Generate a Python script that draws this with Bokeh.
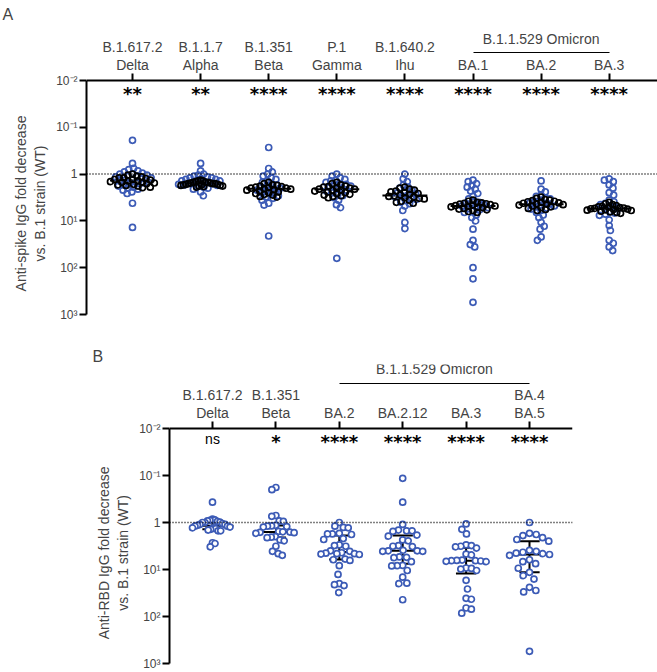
import math
import numpy as np
from bokeh.plotting import figure
from bokeh.models import (Range1d, LinearAxis, FixedTicker, Span,
                          CustomJSTickFormatter, ColumnDataSource)
from bokeh.layouts import column
from bokeh.embed import file_html
from bokeh.resources import INLINE

# ---------------- data: panel A (anti-spike IgG fold decrease) ----------------
a_line1 = ["B.1.617.2", "B.1.1.7", "B.1.351", "P.1", "B.1.640.2", "", "", ""]
a_line2 = ["Delta", "Alpha", "Beta", "Gamma", "Ihu", "BA.1", "BA.2", "BA.3"]
a_group = "B.1.1.529 Omicron"
a_group_span = (5, 7)
a_stars = ["**", "**", "****", "****", "****", "****", "****", "****"]

a_delta_blue = [0.19, 0.59, 0.75, 0.8, 0.85, 0.9, 0.95, 1.0, 1.0, 1.05, 1.1, 1.1, 1.15, 1.2, 1.25,
                1.3, 1.35, 1.4, 1.5, 1.55, 1.6, 1.7, 1.8, 1.9, 2.0, 2.1, 2.2, 2.4, 2.6, 4.2, 13.8]
a_delta_black = [1.0, 1.05, 1.1, 1.15, 1.2, 1.2, 1.25, 1.3, 1.3, 1.35, 1.4, 1.4, 1.45, 1.5, 1.5,
                 1.55, 1.6, 1.65, 1.7, 1.75, 1.8, 1.9, 1.95]
a_alpha_blue = [0.59, 0.85, 1.0, 1.05, 1.1, 1.15, 1.2, 1.2, 1.25, 1.3, 1.3, 1.35, 1.4, 1.4, 1.45,
                1.5, 1.5, 1.55, 1.6, 1.6, 1.65, 1.7, 1.75, 1.8, 1.9, 2.0, 2.1, 2.4, 2.9]
a_alpha_black = [1.35, 1.4, 1.4, 1.45, 1.5, 1.5, 1.5, 1.55, 1.55, 1.6, 1.6, 1.6, 1.65, 1.65, 1.7,
                 1.7, 1.75, 1.75, 1.8, 1.8, 1.85, 1.9]
a_beta_blue = [0.27, 0.76, 0.9, 1.0, 1.1, 1.2, 1.3, 1.4, 1.5, 1.6, 1.7, 1.8, 1.9, 2.0, 2.1, 2.2,
               2.3, 2.4, 2.5, 2.7, 2.9, 3.1, 3.3, 3.6, 4.2, 4.6, 21]
a_beta_black = [1.5, 1.6, 1.7, 1.75, 1.8, 1.85, 1.9, 1.95, 2.0, 2.0, 2.05, 2.1, 2.15, 2.2, 2.3,
                2.4, 2.5, 2.6, 2.7, 2.8, 3.0, 3.1]
a_gamma_blue = [1.0, 1.1, 1.2, 1.3, 1.35, 1.4, 1.5, 1.6, 1.65, 1.7, 1.8, 1.9, 2.0, 2.1, 2.2, 2.3,
                2.5, 2.7, 2.9, 3.2, 3.6, 4.5, 5.2, 63]
a_gamma_black = [1.5, 1.6, 1.7, 1.8, 1.85, 1.9, 2.0, 2.0, 2.1, 2.1, 2.2, 2.2, 2.3, 2.4, 2.5, 2.6,
                 2.7, 2.8, 2.9, 3.0, 3.2]
a_ihu_blue = [1.0, 1.26, 1.45, 1.7, 1.9, 2.0, 2.2, 2.3, 2.5, 2.6, 2.8, 3.0, 3.1, 3.3, 3.5, 3.7,
              4.0, 4.3, 4.8, 6.0, 10.8, 14.6]
a_ihu_black = [1.9, 2.0, 2.1, 2.2, 2.3, 2.4, 2.5, 2.6, 2.7, 2.8, 2.9, 3.0, 3.1, 3.2, 3.3, 3.4,
               3.6, 3.8, 4.0, 4.2]
a_ba1_blue = [1.35, 1.45, 1.6, 1.75, 1.9, 2.1, 2.3, 2.6, 3.0, 3.4, 3.8, 4.0, 4.2, 4.4, 4.6, 4.8,
              5.0, 5.2, 5.5, 5.8, 6.2, 6.6, 7.5, 8.5, 10, 15, 26, 32, 36, 100, 173, 550]
a_ba1_black = [3.6, 3.8, 4.0, 4.1, 4.2, 4.3, 4.4, 4.5, 4.6, 4.7, 4.8, 4.9, 5.0, 5.1, 5.2, 5.4,
               5.6, 5.8, 6.0, 6.3, 6.6]
a_ba2_blue = [1.4, 2.1, 2.4, 2.8, 3.0, 3.2, 3.4, 3.6, 3.8, 4.0, 4.2, 4.4, 4.6, 4.8, 5.0, 5.3,
              5.6, 6.0, 6.6, 7.5, 8.5, 10.7, 13, 15, 22, 26]
a_ba2_black = [3.1, 3.3, 3.5, 3.6, 3.7, 3.8, 3.9, 4.0, 4.1, 4.2, 4.3, 4.4, 4.5, 4.6, 4.8, 5.0,
               5.2, 5.4, 5.7, 6.0]
a_ba3_blue = [1.26, 1.35, 1.45, 1.7, 2.0, 2.5, 2.8, 3.6, 3.9, 4.2, 4.5, 4.8, 5.0, 5.3, 5.6, 6.0,
              6.4, 6.8, 7.2, 7.6, 9.5, 12.6, 16, 26, 30, 36, 43]
a_ba3_black = [4.0, 4.3, 4.5, 4.7, 4.9, 5.0, 5.1, 5.2, 5.3, 5.4, 5.5, 5.6, 5.7, 5.8, 5.9, 6.0,
               6.2, 6.4, 6.6, 6.9]

a_blue = [a_delta_blue, a_alpha_blue, a_beta_blue, a_gamma_blue, a_ihu_blue,
          a_ba1_blue, a_ba2_blue, a_ba3_blue]
a_black = [a_delta_black, a_alpha_black, a_beta_black, a_gamma_black, a_ihu_black,
           a_ba1_black, a_ba2_black, a_ba3_black]

# ---------------- data: panel B (anti-RBD IgG fold decrease) ----------------
b_line1 = ["B.1.617.2", "B.1.351", "", "", "", "BA.4"]
b_line2 = ["Delta", "Beta", "BA.2", "BA.2.12", "BA.3", "BA.5"]
b_group = "B.1.1.529 Omicron"
b_group_span = (2, 5)
b_stars = ["ns", "*", "****", "****", "****", "****"]

b_delta = [0.37, 0.85, 0.88, 0.9, 0.92, 0.95, 0.98, 1.0, 1.0, 1.05, 1.1, 1.1, 1.15, 1.2, 1.2,
           1.25, 1.3, 1.3, 1.35, 1.4, 1.45, 1.5, 1.5, 2.7, 2.8, 3.3]
b_beta = [0.18, 0.2, 0.71, 0.74, 0.92, 0.95, 1.15, 1.18, 1.2, 1.22, 1.25, 1.55, 1.58, 1.6, 1.62,
          1.65, 1.7, 2.0, 2.05, 2.1, 2.35, 2.45, 3.2, 4.1, 4.6, 5.0]
b_ba2 = [1.0, 1.2, 1.27, 1.3, 1.7, 1.75, 1.75, 1.8, 2.2, 2.3, 3.0, 3.1, 3.2, 4.0, 4.1, 4.4, 4.5,
         4.6, 4.6, 4.7, 4.8, 6.0, 6.2, 6.4, 8.3, 12.7, 20, 21, 22, 31]
b_ba212 = [0.115, 0.37, 1.1, 1.45, 1.5, 1.5, 1.55, 1.85, 1.95, 2.35, 2.45, 3.1, 3.2, 3.25, 3.9,
           4.0, 4.0, 4.1, 4.1, 5.4, 5.5, 5.6, 6.8, 8.2, 8.3, 8.4, 10.5, 14.6, 19.5, 20, 44]
b_ba3 = [1.07, 1.4, 1.75, 3.0, 3.1, 3.2, 3.3, 3.5, 4.7, 4.9, 6.3, 6.4, 6.5, 6.5, 6.6, 6.7, 6.8,
         9.3, 9.5, 9.8, 10.5, 17, 26, 41, 43, 66, 70, 85]
b_ba45 = [1.0, 1.7, 1.8, 1.9, 2.1, 2.3, 2.5, 3.9, 4.1, 4.3, 4.5, 4.6, 4.8, 5.0, 6.2, 6.8, 7.5,
          9.4, 11.5, 13.5, 16, 24, 28, 30, 550]
b_vals = [b_delta, b_beta, b_ba2, b_ba212, b_ba3, b_ba45]

# ---------------- styling ----------------
BLUE = "#3c5bb6"
FONT = "Liberation Sans"
W = 657
H = 672
NBSP = "\u00a0"
LABEL_PX = 14


def swarm(vals, d, ppd, cap):
    """Beeswarm x offsets (pixels) for values on a log axis."""
    y = np.log10(np.asarray(vals, float)) * ppd
    order = np.argsort(y, kind="stable")
    px, py = [], []
    xs = np.zeros(len(y))
    for k, i in enumerate(order):
        yi = y[i]
        cands = [0.0]
        for xj, yj in zip(px, py):
            dy = yi - yj
            if abs(dy) < d:
                dx = math.sqrt(d * d - dy * dy)
                cands.extend([xj + dx, xj - dx])
        sgn = 1 if k % 2 else -1
        cands.sort(key=lambda c: (round(abs(c), 6), sgn * c))
        best = cands[-1]
        for c in cands:
            if all((c - xj) ** 2 + (yi - yj) ** 2 >= d * d - 1e-6 for xj, yj in zip(px, py)):
                best = c
                break
        xs[i] = best
        px.append(best)
        py.append(yi)
    m = np.max(np.abs(xs)) if len(xs) else 0
    if m > cap:
        xs *= cap / m
    return xs


TICK_CODE = """
const e = Math.round(Math.log10(tick));
if (e === 0) { return "1"; }
const sup = {"-2": "\u207b\u00b2", "-1": "\u207b\u00b9", "1": "\u00b9", "2": "\u00b2", "3": "\u00b3"};
return "10" + sup[String(e)];
"""


def make_panel(title, ylabel_lines, line1, line2, group, group_span, stars, height,
               left, top, axis_y, bottom, first_x, cat_px, right, header):
    n = len(line2)
    ppd = (bottom - axis_y) / 5.0
    x_range = Range1d(-(first_x - left) / cat_px, (right - first_x) / cat_px)
    y_range = Range1d(1000, 10 ** (-2 - (axis_y - top) / ppd))
    p = figure(width=W, height=height, x_range=x_range, y_range=y_range,
               y_axis_type="log", x_axis_location=None, toolbar_location=None,
               output_backend="svg", title=title,
               min_border_left=left, min_border_right=W - right,
               min_border_top=top, min_border_bottom=height - bottom)
    if "frame_align" in p.properties():
        p.frame_align = False
    p.outline_line_color = None
    p.grid.visible = False
    p.title.text_font = FONT
    p.title.text_font_size = "16px"
    p.title.text_font_style = "normal"
    p.title.align = "left"
    p.title.offset = header["title_dx"]
    if "standoff" in p.title.properties():
        p.title.standoff = 0

    # the frame also holds the header rows, so the label is padded to sit
    # centred on the 10^-2 .. 10^3 part of the axis
    pad = NBSP * int(round(1.2 * (axis_y - top) / (0.278 * LABEL_PX)))
    yax = p.yaxis[0]
    yax.ticker = FixedTicker(ticks=[0.01, 0.1, 1, 10, 100, 1000], minor_ticks=[])
    yax.formatter = CustomJSTickFormatter(code=TICK_CODE)
    yax.bounds = (0.01, 1000)
    yax.axis_label = "\n".join(l + pad for l in ylabel_lines)
    yax.axis_label_text_font = FONT
    yax.axis_label_text_font_size = f"{LABEL_PX}px"
    yax.axis_label_text_font_style = "normal"
    yax.axis_label_standoff = 5
    yax.major_label_text_font = FONT
    yax.major_label_text_font_size = "12px"
    yax.major_label_standoff = 2
    yax.major_tick_out = 7
    yax.major_tick_in = 0
    yax.minor_tick_line_color = None
    yax.axis_line_width = 2
    yax.major_tick_line_width = 2

    def px_above(px):
        return 10 ** (-2 - px / ppd)

    def top_axis(loc, labels, ticks, tick_out, standoff, line_width, bounds="auto",
                 line_color="black"):
        ax = LinearAxis(fixed_location=loc, ticker=FixedTicker(ticks=ticks, minor_ticks=[]),
                        major_label_overrides={t: l for t, l in zip(ticks, labels)},
                        bounds=bounds)
        ax.major_label_text_font = FONT
        ax.major_label_text_font_size = "14px"
        ax.major_label_standoff = standoff
        ax.major_tick_out = tick_out
        ax.major_tick_in = 0
        ax.minor_tick_line_color = None
        ax.axis_line_color = line_color
        ax.axis_line_width = line_width
        if tick_out > 0:
            ax.major_tick_line_width = 2
        else:
            ax.major_tick_line_color = None
        p.add_layout(ax, "above")
        return ax

    idx = list(range(n))
    top_axis(0.01, line2, idx, 7, 1, 2)
    top_axis(px_above(header["line1_px"]), line1, idx, 0, 0, 1, line_color=None)
    g0, g1 = group_span
    top_axis(px_above(header["bracket_px"]), [group], [(g0 + g1) / 2.0], 0,
             header["group_standoff"], 1.2, bounds=(g0, g1))

    p.add_layout(Span(location=1, dimension="width", line_color="black",
                      line_width=1.5, line_dash="1 2"))

    star_src = ColumnDataSource(dict(
        x=idx, y=[0.01] * n, text=stars,
        font=["DejaVu Sans" if "*" in s else FONT for s in stars],
        size=["18px" if "*" in s else "14px" for s in stars],
        style=["bold" if "*" in s else "normal" for s in stars]))
    p.text(x="x", y="y", text="text", source=star_src, text_font="font",
           text_font_size="size", text_font_style="style", text_align="center",
           text_baseline="top", y_offset=2, text_color="black")
    return p, ppd


# ---------------- panel A ----------------
HA = 338
pA, ppdA = make_panel("A", ["Anti-spike IgG fold decrease", "vs. B.1 strain (WT)"],
                      a_line1, a_line2, a_group, a_group_span, a_stars,
                      height=HA, left=86, top=22, axis_y=80, bottom=314,
                      first_x=132, cat_px=68.1, right=W,
                      header=dict(title_dx=-84, line1_px=26, bracket_px=28,
                                  group_standoff=6))
catA = 68.1
mx0, mx1, my = [], [], []
bx, by, kx, ky = [], [], [], []
for i, (bl, bk) in enumerate(zip(a_blue, a_black)):
    med = float(np.median(bl + bk))
    mx0.append(i - 0.33)
    mx1.append(i + 0.33)
    my.append(med)
    ob = swarm(bl, 5.0, ppdA, 22.0)
    ok = swarm(bk, 5.0, ppdA, 22.0)
    bx += list(i + ob / catA)
    by += bl
    kx += list(i + ok / catA)
    ky += bk
pA.segment(x0=mx0, y0=my, x1=mx1, y1=my, line_color="black", line_width=2)
pA.scatter(bx, by, marker="circle", size=6, line_width=1.7, line_color=BLUE,
           fill_color=None)
pA.scatter(kx, ky, marker="circle", size=6, line_width=1.7, line_color="black",
           fill_color=None)

# ---------------- panel B ----------------
HB = H - HA
pB, ppdB = make_panel("B", ["Anti-RBD IgG fold decrease", "vs. B.1 strain (WT)"],
                      b_line1, b_line2, b_group, b_group_span, b_stars,
                      height=HB, left=169, top=26, axis_y=90, bottom=325,
                      first_x=212, cat_px=63.4, right=572,
                      header=dict(title_dx=-77, line1_px=26, bracket_px=45,
                                  group_standoff=7))
catB = 63.4
sx, sy = [], []
m0, m1, mv = [], [], []
vx, q1s, q3s = [], [], []
c0, c1, cy = [], [], []
for i, vals in enumerate(b_vals):
    q1, med, q3 = np.percentile(vals, [25, 50, 75])
    m0.append(i - 0.33)
    m1.append(i + 0.33)
    mv.append(float(med))
    vx.append(i)
    q1s.append(float(q1))
    q3s.append(float(q3))
    for q in (q1, q3):
        c0.append(i - 0.16)
        c1.append(i + 0.16)
        cy.append(float(q))
    off = swarm(vals, 9.0, ppdB, 20.0)
    sx += list(i + off / catB)
    sy += vals
pB.segment(x0=m0, y0=mv, x1=m1, y1=mv, line_color="black", line_width=2)
pB.segment(x0=vx, y0=q1s, x1=vx, y1=q3s, line_color="black", line_width=2)
pB.segment(x0=c0, y0=cy, x1=c1, y1=cy, line_color="black", line_width=2)
pB.scatter(sx, sy, marker="circle", size=6, line_width=1.7, line_color=BLUE,
           fill_color="white")

layout = column(pA, pB, spacing=0)
open("out.html", "w").write(file_html(layout, INLINE))
